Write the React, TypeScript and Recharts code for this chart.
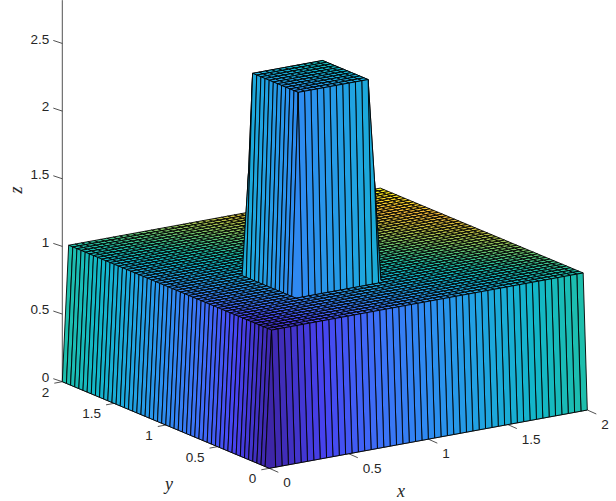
import { ScatterChart, Scatter, XAxis, YAxis, ReferenceLine } from "recharts";

const W = 616;
const H = 501;

// grid nodes along x and y
const gridNodes = [
  0, 0.04, 0.08, 0.12, 0.16, 0.2, 0.24, 0.28, 0.32, 0.36, 0.4, 0.44, 0.48, 0.52, 0.56, 0.6, 0.64,
  0.68, 0.72, 0.76, 0.8, 0.84, 0.88, 0.92, 0.96, 1, 1.04, 1.08, 1.12, 1.16, 1.2, 1.24, 1.28, 1.32,
  1.36, 1.4, 1.44, 1.48, 1.52, 1.56, 1.6, 1.64, 1.68, 1.72, 1.76, 1.8, 1.84, 1.88, 1.92, 1.96, 2,
];

// heights: each row is one y node, each char an index into zLevels
const zLevels = [0, 1, 2.5, 1.75];
const rowEdge = "0 0000000000 00 0000000000 00 0 0000000000 0000000000 00000".replace(/ /g, "");
const rowPlain = "0 1111111111 11 1111111111 11 1 1111111111 1111111111 11111".replace(/ /g, "");
const rowTower = "0 1111111111 11 2222222222 22 3 1111111111 1111111111 11111".replace(/ /g, "");
const rowShoulder = "0 1111111111 11 3333333333 33 3 1111111111 1111111111 11111".replace(/ /g, "");
const zRows = [
  rowEdge,
  rowPlain, rowPlain, rowPlain, rowPlain, rowPlain, rowPlain,
  rowPlain, rowPlain, rowPlain, rowPlain, rowPlain, rowPlain,
  rowTower, rowTower, rowTower, rowTower, rowTower, rowTower,
  rowTower, rowTower, rowTower, rowTower, rowTower, rowTower,
  rowShoulder,
  rowPlain, rowPlain, rowPlain, rowPlain, rowPlain, rowPlain, rowPlain, rowPlain, rowPlain, rowPlain,
  rowPlain, rowPlain, rowPlain, rowPlain, rowPlain, rowPlain, rowPlain, rowPlain, rowPlain, rowPlain,
  rowPlain, rowPlain, rowPlain, rowPlain, rowPlain,
];

const xTicks = [0, 0.5, 1, 1.5, 2];
const yTicks = [0, 0.5, 1, 1.5, 2];
const zTicks = [0, 0.5, 1, 1.5, 2, 2.5];
const zTop = 2.82;

const parula = [
  "#3e26a8", "#4743f0", "#3d6ff7", "#2d8cf0", "#1fa4e0", "#12b6c8", "#1fbfa8", "#55c47c",
  "#96c55a", "#c9bd3e", "#f1b73a", "#fbd828", "#f9fb15",
];

// camera, in the picture's pixels
const proj = (x: number, y: number, z: number) => ({
  px: 269.3 + 159 * x - 103.5 * y,
  py: 468.3 - 29.15 * x - 43.3 * y - 135.3 * z,
});

const hexToRgb = (h: string) => [1, 3, 5].map((k) => parseInt(h.slice(k, k + 2), 16));

function colorAt(t: number) {
  const pos = Math.min(0.9999, Math.max(0, t)) * (parula.length - 1);
  const k = Math.floor(pos);
  const a = hexToRgb(parula[k]);
  const b = hexToRgb(parula[k + 1]);
  const c = a.map((v, n) => Math.round(v + (b[n] - v) * (pos - k)));
  return `rgb(${c[0]},${c[1]},${c[2]})`;
}

const zAt = (i: number, j: number) => zLevels[Number(zRows[j][i])];

// back to front, four corners per facet
const corners: { px: number; py: number }[] = [];
const fills: string[] = [];
for (let j = gridNodes.length - 2; j >= 0; j--) {
  for (let i = gridNodes.length - 2; i >= 0; i--) {
    [
      [i, j],
      [i + 1, j],
      [i + 1, j + 1],
      [i, j + 1],
    ].forEach(([a, b]) => corners.push(proj(gridNodes[a], gridNodes[b], zAt(a, b))));
    fills.push(colorAt((gridNodes[i] + gridNodes[j]) / 4));
  }
}

function Facets(props: any) {
  const pts = props.points;
  const out = [];
  for (let k = 0; k < fills.length; k++) {
    const d = [0, 1, 2, 3].map((n) => `${pts[k * 4 + n].x},${pts[k * 4 + n].y}`).join(" ");
    out.push(<polygon key={k} points={d} fill={fills[k]} stroke="#000" strokeWidth={0.9} strokeLinejoin="round" />);
  }
  return <g>{out}</g>;
}

const noMark = () => null;

const font = "'Liberation Sans', Arial, sans-serif";
const ink = "#262626";

const tickLabels = [
  ...xTicks.map((v) => {
    const p = proj(v, 0, 0);
    return { px: p.px + 14, py: p.py + 14.5, text: String(v), anchor: "start" };
  }),
  ...yTicks.map((v) => {
    const p = proj(0, v, 0);
    return { px: p.px - 13, py: p.py + 10.5, text: String(v), anchor: "end" };
  }),
  ...zTicks.map((v) => {
    const p = proj(0, 2, v);
    return { px: p.px - 13, py: p.py - 4.4, text: String(v), anchor: "end" };
  }),
];

const axisTitles = [
  { px: 401, py: 491, text: "x", rotate: 0 },
  { px: 169, py: 484, text: "y", rotate: 0 },
  { px: 16, py: 190, text: "z", rotate: -90 },
];

const TickText = (p: any) => (
  <text
    x={p.cx}
    y={p.cy}
    textAnchor={p.payload.anchor}
    dominantBaseline="central"
    fontFamily={font}
    fontSize={13.5}
    fill={ink}
  >
    {p.payload.text}
  </text>
);

const TitleText = (p: any) => (
  <text
    x={p.cx}
    y={p.cy}
    textAnchor="middle"
    dominantBaseline="central"
    fontFamily="'Liberation Serif', serif"
    fontStyle="italic"
    fontSize={18}
    fill={ink}
    transform={`rotate(${p.payload.rotate} ${p.cx} ${p.cy})`}
  >
    {p.payload.text}
  </text>
);

const seg = (a: { px: number; py: number }, b: { px: number; py: number }, key: string) => (
  <ReferenceLine
    key={key}
    ifOverflow="visible"
    segment={[
      { x: a.px, y: a.py },
      { x: b.px, y: b.py },
    ]}
    stroke={ink}
    strokeWidth={0.8}
  />
);

const shift = (p: { px: number; py: number }, dx: number, dy: number) => ({ px: p.px + dx, py: p.py + dy });

export default function App() {
  return (
    <div style={{ position: "absolute", left: 0, top: 0, width: W, height: H, background: "#fff" }}>
      <ScatterChart width={W} height={H} margin={{ top: 0, right: 0, bottom: 0, left: 0 }}>
        <XAxis type="number" dataKey="px" domain={[0, W]} hide />
        <YAxis type="number" dataKey="py" domain={[0, H]} reversed hide />
        {seg(proj(0, 0, 0), proj(2, 0, 0), "xa")}
        {seg(proj(0, 0, 0), proj(0, 2, 0), "ya")}
        {seg(proj(0, 2, 0), proj(0, 2, zTop), "za")}
        {xTicks.map((v) => seg(proj(v, 0, 0), shift(proj(v, 0, 0), 9, 4), `xt${v}`))}
        {yTicks.map((v) => seg(proj(0, v, 0), shift(proj(0, v, 0), -8, 1.5), `yt${v}`))}
        {zTicks.map((v) => seg(proj(0, 2, v), shift(proj(0, 2, v), -9, -3), `zt${v}`))}
        <Scatter data={corners} dataKey="py" shape={noMark} line={Facets} isAnimationActive={false} />
        <Scatter data={tickLabels} dataKey="py" shape={TickText} isAnimationActive={false} />
        <Scatter data={axisTitles} dataKey="py" shape={TitleText} isAnimationActive={false} />
      </ScatterChart>
    </div>
  );
}
